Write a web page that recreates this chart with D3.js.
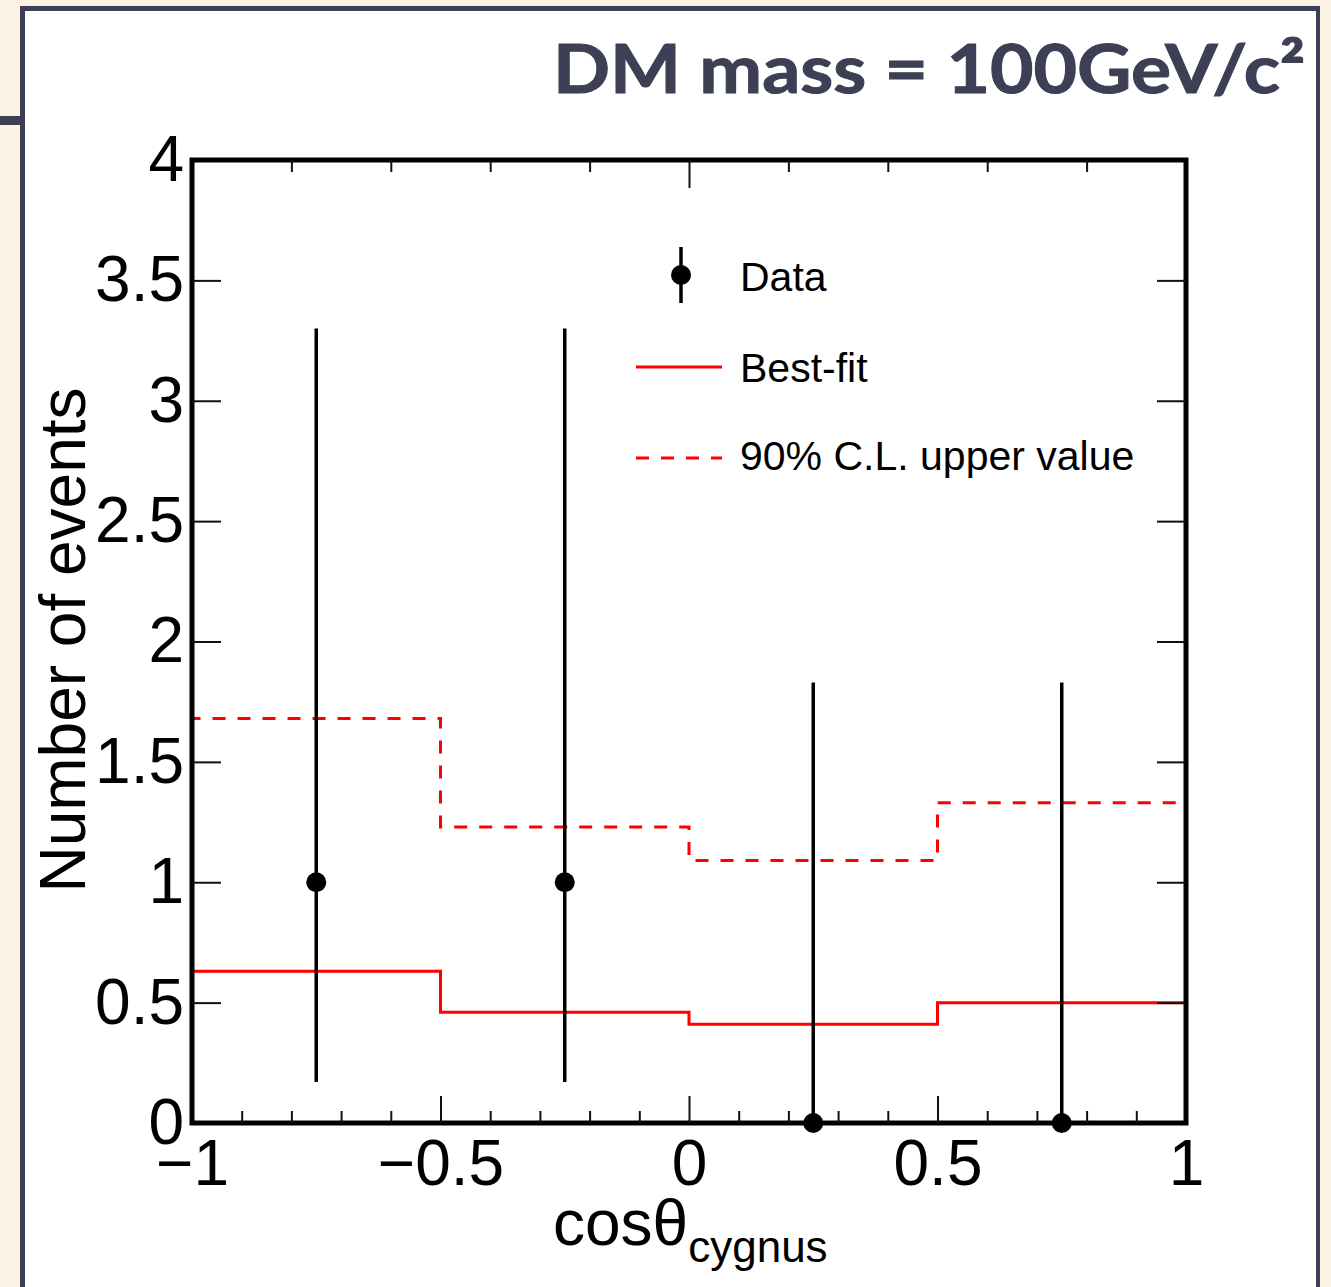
<!DOCTYPE html>
<head>
    <meta charset="utf-8">
    <script src="https://d3js.org/d3.v7.min.js"></script>
    <style>
      body { margin: 0; background: #fdf3e4; }
      text { font-family: "Liberation Sans", Arial, sans-serif; fill: #000; }
      .slidetitle { font-family: Lato, "Open Sans", sans-serif; font-weight: 700; fill: #3d3f55; }
      .ticks line { stroke: #111; stroke-width: 2; }
      .ticklabel { font-size: 64px; }
    </style>
</head>
<body>
    <script>
        // histogram bins and values
        var binEdges = [-1, -0.5, 0, 0.5, 1];
        var bestFit = [0.63, 0.46, 0.41, 0.50];
        var upper90 = [1.68, 1.23, 1.09, 1.33];
        // data points with asymmetric (poisson) error bars
        var dataX = [-0.75, -0.25, 0.25, 0.75];
        var dataY = [1, 1, 0, 0];
        var dataLo = [0.17, 0.17, 0, 0];
        var dataHi = [3.30, 3.30, 1.83, 1.83];
        // ticks
        var yTicks = [0, 0.5, 1, 1.5, 2, 2.5, 3, 3.5, 4];
        var yTickLabels = ["0", "0.5", "1", "1.5", "2", "2.5", "3", "3.5", "4"];
        var xMajor = [-1, -0.5, 0, 0.5, 1];
        var xTickLabels = ["\u22121", "\u22120.5", "0", "0.5", "1"];
        var xMinor = [-0.9, -0.8, -0.7, -0.6, -0.4, -0.3, -0.2, -0.1, 0.1, 0.2, 0.3, 0.4, 0.6, 0.7, 0.8, 0.9];
        var xTopMinor = [-0.8, -0.6, -0.4, -0.2, 0.2, 0.4, 0.6, 0.8];
        var xTopMajor = [0];

        var svg_w = 1331, svg_h = 1287;
        var svg = d3.select("body").append("svg")
          .attr("width", svg_w)
          .attr("height", svg_h);

        // slide frame
        var frameCol = "#3d3f55";
        svg.append("rect").attr("x", 20).attr("y", 6).attr("width", 1300).attr("height", 1300).attr("fill", frameCol);
        svg.append("rect").attr("x", 25).attr("y", 11).attr("width", 1291).attr("height", 1300).attr("fill", "#fff");
        svg.append("rect").attr("x", 0).attr("y", 116).attr("width", 22).attr("height", 9).attr("fill", frameCol);

        svg.append("text")
          .attr("x", 1305).attr("y", 93)
          .attr("text-anchor", "end")
          .attr("font-size", "67px")
          .attr("textLength", 752)
          .attr("lengthAdjust", "spacingAndGlyphs")
          .attr("stroke", "#3d3f55")
          .attr("stroke-width", 1)
          .classed("slidetitle", true)
          .text("DM mass = 100GeV/c\u00b2");

        var pLeft = 192, pRight = 1186, pTop = 160, pBottom = 1123;
        var x = d3.scaleLinear().domain([-1, 1]).range([pLeft, pRight]);
        var y = d3.scaleLinear().domain([0, 4]).range([pBottom, pTop]);

        // step histograms
        function stepPoints(vals) {
          var pts = [[binEdges[0], 0]];
          vals.forEach(function(v, i) { pts.push([binEdges[i], v]); });
          pts.push([binEdges[binEdges.length - 1], vals[vals.length - 1]]);
          pts.push([binEdges[binEdges.length - 1], 0]);
          return pts;
        }
        var step = d3.line()
          .x(function(d) { return x(d[0]); })
          .y(function(d) { return y(d[1]); })
          .curve(d3.curveStepAfter);

        svg.append("path")
          .attr("d", step(stepPoints(upper90)))
          .attr("fill", "none")
          .attr("stroke", "#ff0000")
          .attr("stroke-width", 3)
          .attr("stroke-dasharray", "13,12");
        svg.append("path")
          .attr("d", step(stepPoints(bestFit)))
          .attr("fill", "none")
          .attr("stroke", "#ff0000")
          .attr("stroke-width", 3);

        // data with error bars
        var pts = dataX.map(function(d, i) {
          return {x: d, y: dataY[i], lo: dataLo[i], hi: dataHi[i]};
        });
        svg.selectAll(".errbar").data(pts).enter()
          .append("line")
          .attr("x1", function(d) { return x(d.x); })
          .attr("x2", function(d) { return x(d.x); })
          .attr("y1", function(d) { return y(d.lo); })
          .attr("y2", function(d) { return y(d.hi); })
          .attr("stroke", "#000")
          .attr("stroke-width", 3.5)
          .classed("errbar", true);

        // frame of the plot
        svg.append("rect")
          .attr("x", pLeft).attr("y", pTop)
          .attr("width", pRight - pLeft).attr("height", pBottom - pTop)
          .attr("fill", "none")
          .attr("stroke", "#000")
          .attr("stroke-width", 5);

        svg.selectAll(".marker").data(pts).enter()
          .append("circle")
          .attr("cx", function(d) { return x(d.x); })
          .attr("cy", function(d) { return y(d.y); })
          .attr("r", 10)
          .attr("fill", "#000")
          .classed("marker", true);

        // axes (ticks pointing inward)
        function tickAxis(axis, transform) {
          var g = svg.append("g").classed("ticks", true).attr("transform", transform).call(axis);
          g.select(".domain").remove();
          return g;
        }
        tickAxis(d3.axisBottom(x).tickValues(xMinor).tickSize(-12).tickFormat(""), "translate(0," + pBottom + ")");
        tickAxis(d3.axisBottom(x).tickValues(xMajor.slice(1, 4)).tickSize(-27).tickFormat(""), "translate(0," + pBottom + ")");
        tickAxis(d3.axisTop(x).tickValues(xTopMinor).tickSize(-12).tickFormat(""), "translate(0," + pTop + ")");
        tickAxis(d3.axisTop(x).tickValues(xTopMajor).tickSize(-28).tickFormat(""), "translate(0," + pTop + ")");
        tickAxis(d3.axisLeft(y).tickValues(yTicks.slice(1, 8)).tickSize(-29).tickFormat(""), "translate(" + pLeft + ",0)");
        tickAxis(d3.axisRight(y).tickValues(yTicks.slice(1, 8)).tickSize(-29).tickFormat(""), "translate(" + pRight + ",0)");

        // tick labels
        var xl = svg.append("g")
          .attr("transform", "translate(0," + pBottom + ")")
          .call(d3.axisBottom(x).tickValues(xMajor).tickSize(0).tickPadding(17)
            .tickFormat(function(d, i) { return xTickLabels[i]; }));
        xl.select(".domain").remove();
        xl.selectAll("text").attr("font-size", null).attr("font-family", null).classed("ticklabel", true);

        var yl = svg.append("g")
          .attr("transform", "translate(" + pLeft + ",0)")
          .call(d3.axisLeft(y).tickValues(yTicks).tickSize(0).tickPadding(8)
            .tickFormat(function(d, i) { return yTickLabels[i]; }));
        yl.select(".domain").remove();
        yl.selectAll("text").attr("font-size", null).attr("font-family", null).classed("ticklabel", true);

        // axis titles
        svg.append("text")
          .attr("transform", "translate(85,640) rotate(-90)")
          .attr("text-anchor", "middle")
          .attr("font-size", "64px")
          .text("Number of events");

        var xt = svg.append("text")
          .attr("x", 553).attr("y", 1245)
          .attr("font-size", "64px");
        xt.append("tspan").text("cos\u03b8");
        xt.append("tspan").attr("dy", 17).attr("font-size", "44px").text("cygnus");

        // legend
        var legend = svg.append("g").attr("font-size", "41px");
        legend.append("line").attr("x1", 681).attr("x2", 681).attr("y1", 247).attr("y2", 303)
          .attr("stroke", "#000").attr("stroke-width", 3.5);
        legend.append("circle").attr("cx", 681).attr("cy", 275).attr("r", 10).attr("fill", "#000");
        legend.append("text").attr("x", 740).attr("y", 291).text("Data");

        legend.append("line").attr("x1", 636).attr("x2", 722).attr("y1", 367).attr("y2", 367)
          .attr("stroke", "#ff0000").attr("stroke-width", 3);
        legend.append("text").attr("x", 740).attr("y", 382).text("Best-fit");

        legend.append("line").attr("x1", 636).attr("x2", 722).attr("y1", 458).attr("y2", 458)
          .attr("stroke", "#ff0000").attr("stroke-width", 3).attr("stroke-dasharray", "13,12");
        legend.append("text").attr("x", 740).attr("y", 470).text("90% C.L. upper value");
    </script>
</body>
